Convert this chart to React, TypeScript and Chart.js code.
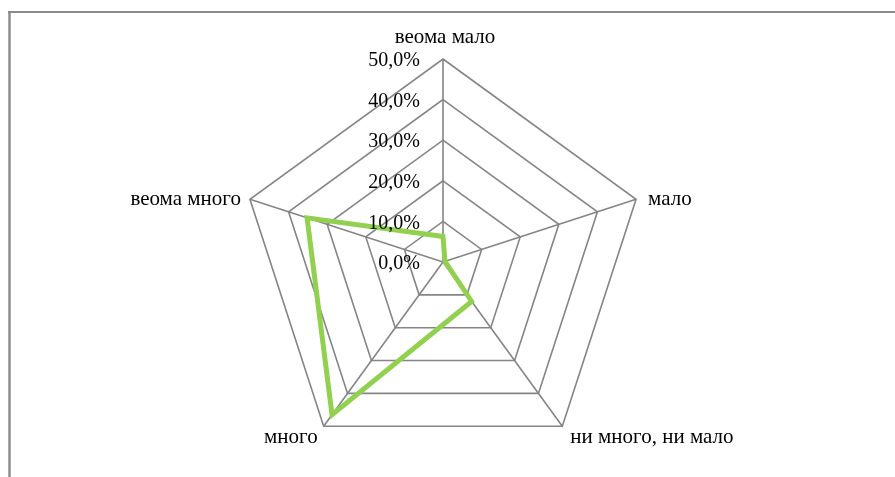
import React, { useEffect, useRef } from "react";
import { Chart, registerables } from "chart.js";

Chart.register(...registerables);

const categories = ["веома мало", "мало", "ни много, ни мало", "много", "веома много"];
const seriesValues = [6.3, 0.5, 12, 46.5, 35.2];
const tickValues = [0, 10, 20, 30, 40, 50];
const tickLabels = ["0,0%", "10,0%", "20,0%", "30,0%", "40,0%", "50,0%"];

const TICK_FONT = '20px "Liberation Serif", "Times New Roman", serif';
const LABEL_FONT = '21px "Liberation Serif", "Times New Roman", serif';

const overlayPlugin = {
  id: "overlay",
  beforeDraw(chart: any) {
    const ctx = chart.ctx;
    ctx.save();
    ctx.strokeStyle = "#8c8c8c";
    ctx.lineWidth = 2;
    ctx.beginPath();
    ctx.moveTo(8, 12);
    ctx.lineTo(895, 12);
    ctx.stroke();
    ctx.lineWidth = 2.5;
    ctx.beginPath();
    ctx.moveTo(9.5, 11);
    ctx.lineTo(9.5, 477);
    ctx.stroke();
    ctx.restore();
  },
  afterDraw(chart: any) {
    const ctx = chart.ctx;
    const scale = chart.scales.r;
    ctx.save();
    ctx.fillStyle = "#000";
    // tick labels
    ctx.font = TICK_FONT;
    ctx.textAlign = "right";
    ctx.textBaseline = "middle";
    tickValues.forEach((v, i) => {
      const p = scale.getPointPositionForValue(0, v);
      ctx.fillText(tickLabels[i], p.x - 23, p.y + 2);
    });
    // point labels
    ctx.font = LABEL_FONT;
    categories.forEach((c, i) => {
      const p = scale.getPointPositionForValue(i, scale.max);
      let x = p.x;
      let y = p.y;
      if (i === 0) {
        ctx.textAlign = "center";
        x += 2;
        y -= 22;
      } else if (i === 1) {
        ctx.textAlign = "left";
        x += 12;
      } else if (i === 2) {
        ctx.textAlign = "left";
        x += 8;
        y += 11;
      } else if (i === 3) {
        ctx.textAlign = "right";
        x -= 6;
        y += 11;
      } else {
        ctx.textAlign = "right";
        x -= 9;
      }
      ctx.textBaseline = "middle";
      ctx.fillText(c, x, y);
    });
    ctx.restore();
  },
};

export default function App() {
  const ref = useRef<HTMLCanvasElement | null>(null);
  useEffect(() => {
    if (!ref.current) return;
    const chart = new Chart(ref.current, {
      type: "radar",
      data: {
        labels: categories,
        datasets: [
          {
            data: seriesValues,
            borderColor: "#92d050",
            borderWidth: 5,
            pointRadius: 0,
            pointHoverRadius: 0,
            fill: false,
            tension: 0,
            borderJoinStyle: "miter",
          },
        ],
      },
      options: {
        animation: false,
        responsive: false,
        devicePixelRatio: 1,
        layout: { padding: { left: 193, right: 202, top: 59, bottom: 12 } },
        plugins: { legend: { display: false }, tooltip: { enabled: false } },
        scales: {
          r: {
            min: 0,
            max: 50,
            ticks: { stepSize: 10, display: false },
            grid: { color: "#858585", lineWidth: 1.6 },
            angleLines: { color: "#858585", lineWidth: 1.6 },
            pointLabels: { display: false },
          },
        },
      },
      plugins: [overlayPlugin],
    });
    return () => chart.destroy();
  }, []);
  return (
    <div style={{ position: "fixed", left: 0, top: 0, width: 895, height: 477, background: "#fff" }}>
      <canvas ref={ref} width={895} height={477} style={{ display: "block" }} />
    </div>
  );
}
